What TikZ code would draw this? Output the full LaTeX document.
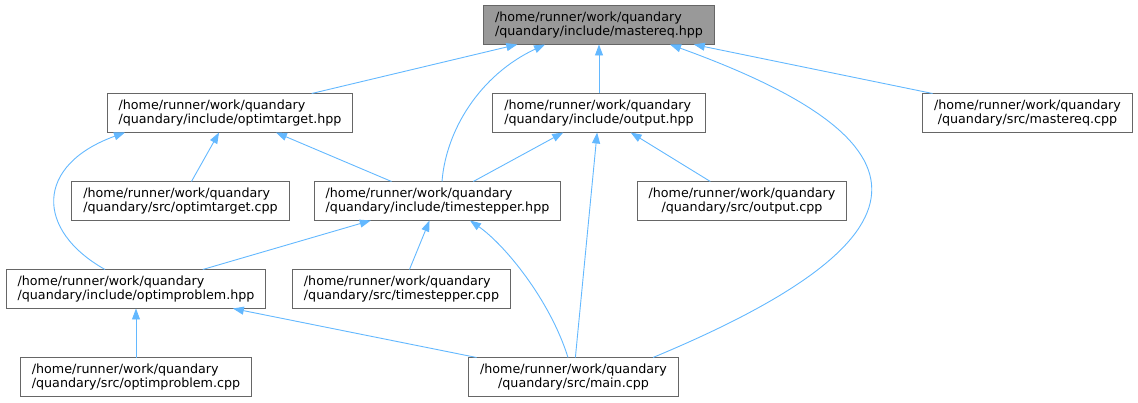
\documentclass[tikz,border=0pt]{standalone}
\usepackage{fontspec}
\setmainfont{DejaVu Sans}
\usetikzlibrary{arrows.meta}

\definecolor{nodeborder}{HTML}{666666}
\definecolor{rootfill}{HTML}{999999}
\definecolor{edgeblue}{HTML}{63B8FF}

\begin{document}
\begin{tikzpicture}
      [
        x=1pt, y=-1pt,
        FileBox/.style={draw=nodeborder, line width=1pt, fill=white, minimum height=39pt, inner xsep=11.5pt, inner ysep=3pt, outer sep=0pt, align=left, font=\fontsize{12.7}{14}\selectfont},
        RootBox/.style={FileBox, fill=rootfill},
        Include/.style={draw=edgeblue, line width=0.9pt, -{Triangle[length=11pt, width=8pt]}},
      ]
      \useasboundingbox (0,0) rectangle (1138,403);

      \node [RootBox] (master) at (599,25) {/home/runner/work/quandary\\/quandary/include/mastereq.hpp};

      \node [FileBox] (optgt) at (230,113) {/home/runner/work/quandary\\/quandary/include/optimtarget.hpp};
      \node [FileBox] (outh) at (599,113) {/home/runner/work/quandary\\/quandary/include/output.hpp};
      \node [FileBox, align=center] (mastercpp) at (1027.5,113) {/home/runner/work/quandary\\/quandary/src/mastereq.cpp};

      \node [FileBox] (optgtcpp) at (180.5,201) {/home/runner/work/quandary\\/quandary/src/optimtarget.cpp};
      \node [FileBox] (tsh) at (437.5,201) {/home/runner/work/quandary\\/quandary/include/timestepper.hpp};
      \node [FileBox, align=center] (outcpp) at (742,201) {/home/runner/work/quandary\\/quandary/src/output.cpp};

      \node [FileBox] (optprob) at (136,289) {/home/runner/work/quandary\\/quandary/include/optimproblem.hpp};
      \node [FileBox] (tscpp) at (401.5,289) {/home/runner/work/quandary\\/quandary/src/timestepper.cpp};

      \node [FileBox] (optprobcpp) at (136,377) {/home/runner/work/quandary\\/quandary/src/optimproblem.cpp};
      \node [FileBox, align=center] (maincpp) at (573.5,377) {/home/runner/work/quandary\\/quandary/src/main.cpp};

      % includes of mastereq.hpp
      \draw [Include] (optgt) -- (master);
      \draw [Include] ([xshift=4.5pt]tsh.north) .. controls (446,130) and (480,75) .. ([xshift=-54pt]master.south);
      \draw [Include] (outh) -- (master);
      \draw [Include] ([xshift=79.5pt]maincpp.north) .. controls (940,238) and (940,142) .. ([xshift=71pt]master.south);
      \draw [Include] (mastercpp) -- (master);

      % includes of optimtarget.hpp and output.hpp
      \draw [Include] ([xshift=-31pt]optprob.north) .. controls (35,230) and (35,165) .. ([xshift=-105pt]optgt.south);
      \draw [Include] (optgtcpp) -- (optgt);
      \draw [Include] (tsh) -- (optgt);
      \draw [Include] (tsh) -- (outh);
      \draw [Include] (maincpp) -- (outh);
      \draw [Include] (outcpp) -- (outh);

      % includes of timestepper.hpp and optimproblem.hpp
      \draw [Include] (optprob) -- (tsh);
      \draw [Include] (tscpp) -- (tsh);
      \draw [Include] ([xshift=-5.5pt]maincpp.north) .. controls (550,300) and (505,245) .. ([xshift=32.5pt]tsh.south);
      \draw [Include] (optprobcpp) -- (optprob);
      \draw [Include] (maincpp) -- (optprob);
    \end{tikzpicture}
\end{document}
